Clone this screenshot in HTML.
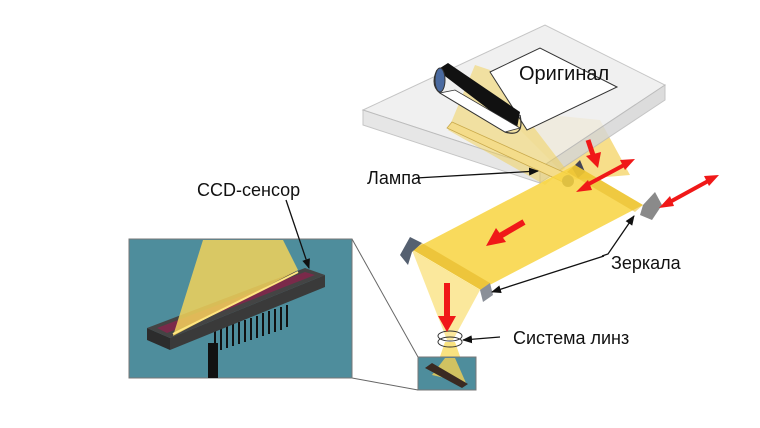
<!DOCTYPE html>
<html><head><meta charset="utf-8"><style>
html,body{margin:0;padding:0;background:#fff;}
svg{display:block;}
text{font-family:"Liberation Sans",Arial,sans-serif;fill:#111;}
</style></head><body>
<svg width="760" height="428" viewBox="0 0 760 428" xmlns="http://www.w3.org/2000/svg">
<defs>
<marker id="ah" markerWidth="10" markerHeight="8" refX="9" refY="4" orient="auto" markerUnits="userSpaceOnUse"><path d="M0,0 L10,4 L0,8 z" fill="#111"/></marker>
</defs>
<!-- beam through plate (under) -->
<polygon points="500,110 600,120 630,175 570,180" fill="#f2c83c" opacity="0.6"/>
<!-- glass plate -->
<polygon points="363,110 545,25 665,85 540,168" fill="#eeeeee" stroke="#bbb" stroke-width="1" opacity="0.85"/>
<polygon points="363,110 540,168 540,183 363,125" fill="#e2e2e2" stroke="#bbb" stroke-width="1" opacity="0.85"/>
<polygon points="540,168 665,85 665,100 540,183" fill="#d6d6d6" stroke="#bbb" stroke-width="1" opacity="0.85"/>
<polygon points="475,65 490,70 565,168 545,185 448,130" fill="#f2cf52" opacity="0.5"/>
<!-- paper -->
<polygon points="490,72 540,48 617,87 527,130" fill="#fff" stroke="#333" stroke-width="1"/>
<!-- roll -->
<polygon points="437,70 448,63 520,112 517,128 500,118" fill="#111"/>
<path d="M437,70 Q430,85 440,93 L505,132 Q525,138 520,115" fill="none" stroke="#333" stroke-width="1.2"/>
<polygon points="440,93 505,132 520,128 455,90" fill="#fff" stroke="#333" stroke-width="0.8"/>
<ellipse cx="440" cy="80" rx="5" ry="12" fill="#4a6aa0" stroke="#333"/>
<!-- lamp rod -->
<polygon points="447,128 452,122 570,175 565,183" fill="#f4dc8a" stroke="#c9a94a" stroke-width="0.8"/>
<circle cx="568" cy="181" r="6" fill="#555"/>
<polygon points="572,168 580,160 585,172 578,178" fill="#445"/>
<!-- main beam -->
<polygon points="412,250 575,165 643,205 480,290" fill="#f8d340" opacity="0.85"/>
<polygon points="412,250 480,290 490,283 422,243" fill="#e3b420" opacity="0.55"/>
<polygon points="575,165 643,205 635,212 567,172" fill="#e8bc2a" opacity="0.55"/>
<line x1="412" y1="250" x2="480" y2="290" stroke="#fff6c8" stroke-width="1"/>
<!-- cone to lens -->
<polygon points="412,250 480,290 453,340 447,340" fill="#f7d64a" opacity="0.55"/>
<polygon points="445,342 455,342 470,385 432,380" fill="#f7d64a" opacity="0.7"/>
<!-- mirrors -->
<polygon points="643,205 655,192 662,205 652,220 640,215" fill="#8a8a8a"/>
<polygon points="400,255 410,237 422,243 412,252 408,265" fill="#556070"/>
<polygon points="480,290 490,283 493,295 483,302" fill="#8a8f98"/>
<!-- lens -->
<ellipse cx="450" cy="336" rx="12" ry="5" fill="none" stroke="#333" stroke-width="1"/>
<ellipse cx="450" cy="342" rx="12" ry="5" fill="none" stroke="#333" stroke-width="1"/>
<!-- small sensor box -->
<rect x="418" y="357" width="58" height="33" fill="#4e8d9c" stroke="#777" stroke-width="1"/>
<polygon points="445,358 455,358 466,383 432,375" fill="#f2cf52" opacity="0.8"/>
<polygon points="425,368 432,363 468,384 462,388" fill="#3a2a22"/>
<!-- connector lines -->
<line x1="352" y1="239" x2="418" y2="357" stroke="#666" stroke-width="1"/>
<line x1="352" y1="378" x2="418" y2="390" stroke="#666" stroke-width="1"/>
<!-- inset -->
<rect x="129" y="239" width="223" height="139" fill="#4e8d9c" stroke="#777" stroke-width="1"/>
<rect x="208" y="343" width="10" height="35" fill="#111"/>
<g stroke="#111" stroke-width="2">
<line x1="215" y1="330" x2="215" y2="352"/><line x1="221" y1="328" x2="221" y2="350"/><line x1="227" y1="326" x2="227" y2="348"/><line x1="233" y1="324" x2="233" y2="346"/><line x1="239" y1="322" x2="239" y2="344"/><line x1="245" y1="320" x2="245" y2="342"/><line x1="251" y1="318" x2="251" y2="340"/><line x1="257" y1="316" x2="257" y2="338"/><line x1="263" y1="313" x2="263" y2="336"/><line x1="269" y1="311" x2="269" y2="334"/><line x1="275" y1="309" x2="275" y2="332"/><line x1="281" y1="307" x2="281" y2="330"/><line x1="287" y1="305" x2="287" y2="327"/>
</g>
<polygon points="147,328 170,338 170,350 147,340" fill="#2c2c2c"/>
<polygon points="170,338 325,275 325,287 170,350" fill="#3a3a3a"/>
<polygon points="147,328 305,268 325,275 170,338" fill="#444"/>
<polygon points="157,328 305,272 315,275 167,333" fill="#7a2a4a"/>
<polygon points="203,240 283,240 298,270 173,336" fill="#f2d25a" opacity="0.85"/>
<line x1="173" y1="334" x2="298" y2="272" stroke="#ffe680" stroke-width="2"/>
<!-- red arrows -->
<g fill="#f01818" stroke="#f01818">
<line x1="588" y1="140" x2="594" y2="158" stroke-width="5"/><polygon points="586,156 601,152 598,168" stroke="none"/>
<line x1="585" y1="186" x2="626" y2="164" stroke-width="4"/>
<polygon points="576,192 588,180 592,190" stroke="none"/><polygon points="635,159 620,160 625,170" stroke="none"/>
<line x1="668" y1="203" x2="710" y2="180" stroke-width="4"/>
<polygon points="659,208 670,196 674,206" stroke="none"/><polygon points="719,175 704,176 709,186" stroke="none"/>
<line x1="524" y1="222" x2="500" y2="236" stroke-width="6"/><polygon points="486,246 496,228 506,242" stroke="none"/>
<line x1="447" y1="283" x2="447" y2="318" stroke-width="6"/><polygon points="438,316 456,316 447,332" stroke="none"/>
</g>
<!-- leader lines -->
<g stroke="#111" stroke-width="1.3" fill="none">
<line x1="416" y1="178" x2="538" y2="171" marker-end="url(#ah)"/>
<line x1="286" y1="200" x2="309" y2="268" marker-end="url(#ah)"/>
<polyline points="602,256 608,254 634,216" marker-end="url(#ah)"/>
<line x1="604" y1="256" x2="492" y2="292" marker-end="url(#ah)"/>
<line x1="500" y1="337" x2="463" y2="340" marker-end="url(#ah)"/>
</g>
<!-- labels -->
<text x="519" y="80" font-size="20">Оригинал</text>
<text x="367" y="184" font-size="18">Лампа</text>
<text x="197" y="196" font-size="18">CCD-сенсор</text>
<text x="611" y="269" font-size="18">Зеркала</text>
<text x="513" y="344" font-size="18">Система линз</text>
</svg>
</body></html>
